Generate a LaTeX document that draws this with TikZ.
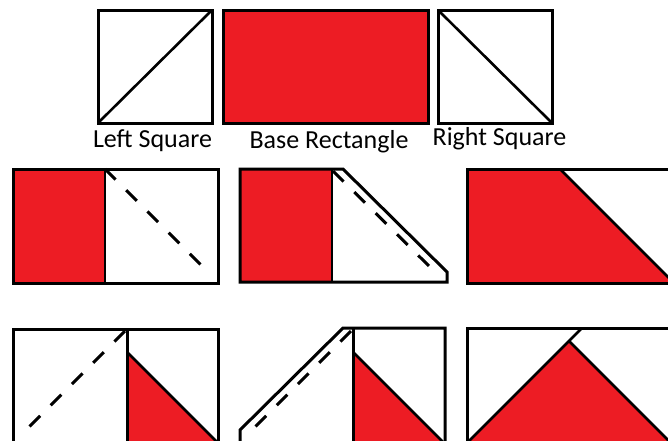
\documentclass[tikz,border=0pt]{standalone}
\usepackage{fontspec}
\setmainfont{Carlito}
\usepackage{tikz}
\definecolor{PatchRed}{RGB}{237,28,36}
\tikzset{
  piece/.style={draw=black,line width=3pt,line join=miter},
  seam/.style={draw=black,line width=2.6pt},
  seamline/.style={draw=black,line width=2pt},
  fold/.style={draw=black,line width=3pt,dash pattern=on 15pt off 15pt},
  caption/.style={anchor=base,inner sep=0pt,font=\fontsize{26}{30}\selectfont}
}

\begin{document}
\begin{tikzpicture}[x=1pt,y=-1pt]
  \useasboundingbox (0,0) rectangle (668,440);
  \clip (0,0) rectangle (668,440);

  % the three pieces
  \draw[piece] (98,10) rectangle (212,123);
  \draw[seam] (98,123) -- (212,10);
  \draw[piece,fill=PatchRed] (223,10) rectangle (428,123);
  \draw[piece] (438,10) rectangle (552,123);
  \draw[seam] (438,10) -- (552,123);
  \node[caption] (leftcap) at (152.5,147) {Left Square};
  \node[caption] (basecap) at (329,148) {Base Rectangle};
  \node[caption] (rightcap) at (499.5,145) {Right Square};

  % right square sewn on
  \fill[PatchRed] (13,169) rectangle (105,283);
  \draw[piece] (13,169) rectangle (218,283);
  \draw[seamline] (105,169) -- (105,283);
  \draw[fold] (105,169) -- (207,271);

  \fill[PatchRed] (240,169) rectangle (332,282);
  \draw[piece] (240,169) -- (343,169) -- (447,272) -- (447,282) -- (240,282) -- cycle;
  \draw[seamline] (332,169) -- (332,282);
  \draw[fold] (333,171) -- (433,270);

  \fill[PatchRed] (467,169) -- (560,169) -- (674,283) -- (467,283) -- cycle;
  \draw[piece] (467,169) rectangle (700,283);
  \draw[seam] (560,169) -- (674,283);

  % left square sewn on
  \draw[piece] (13,329) rectangle (218,470);
  \fill[PatchRed] (127,352) -- (218,443) -- (218,470) -- (127,470) -- cycle;
  \draw[seam] (127,352) -- (218,443);
  \draw[piece] (127,329) -- (127,470);
  \draw[piece] (13,329) -- (218,329) -- (218,470);
  \draw[fold] (125,331) -- (25,431);

  \fill[PatchRed] (353,352) -- (445,444) -- (445,470) -- (353,470) -- cycle;
  \draw[piece] (240,470) -- (240,430) -- (343,328) -- (445,328) -- (445,470);
  \draw[seam] (353,352) -- (445,444);
  \draw[piece] (353,328) -- (353,470);
  \draw[fold] (351,331) -- (252,430);

  \fill[PatchRed] (456,454) -- (569,341) -- (690,462) -- cycle;
  \draw[piece] (467,470) -- (467,328) -- (700,328);
  \draw[seam] (456,454) -- (581,329);
  \draw[seam] (569,341) -- (690,462);
\end{tikzpicture}
\end{document}
